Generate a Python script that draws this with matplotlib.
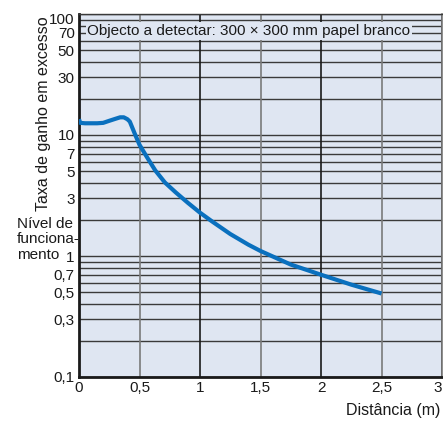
import matplotlib
matplotlib.use("Agg")
import matplotlib.pyplot as plt
from matplotlib.ticker import FixedLocator, NullLocator
from matplotlib.transforms import ScaledTranslation

plt.rcParams['font.family'] = ['Liberation Sans', 'DejaVu Sans']

# Excess gain curve (distance in m, excess gain ratio)
distance = [0.0, 0.01, 0.05, 0.1, 0.15, 0.2, 0.25, 0.3, 0.34, 0.37, 0.4, 0.42,
            0.46, 0.5, 0.56, 0.63, 0.71, 0.8, 0.9, 1.0, 1.1, 1.25, 1.4, 1.5,
            1.75, 2.0, 2.25, 2.5]
gain = [13.5, 12.6, 12.5, 12.5, 12.5, 12.6, 13.1, 13.6, 14.0, 14.0, 13.5, 12.9,
        10.3, 8.3, 6.6, 5.1, 4.05, 3.35, 2.75, 2.28, 1.93, 1.52, 1.24, 1.1,
        0.85, 0.70, 0.58, 0.49]

x_ticks = [0, 0.5, 1, 1.5, 2, 2.5, 3]
x_tick_labels = ["0", "0,5", "1", "1,5", "2", "2,5", "3"]
y_ticks = [0.1, 0.3, 0.5, 0.7, 1, 3, 5, 7, 10, 30, 50, 70, 100]
y_tick_labels = ["0,1", "0,3", "0,5", "0,7", "1", "3", "5", "7", "10", "30", "50", "70", "100"]
y_grid = [m * 10.0 ** e for e in (-1, 0, 1) for m in range(1, 10)] + [100]
level_lines = ["Nível de", "funciona-", "mento"]

bg = "#dfe6f2"
curve_color = "#0a70be"

fig = plt.figure(figsize=(4.43, 4.25), dpi=100)
ax = fig.add_axes([79 / 443, 48 / 425, 363 / 443, 363 / 425])
ax.set_facecolor(bg)
ax.set_yscale("log")
ax.set_xlim(0, 3)
ax.set_ylim(0.1, 100)

# grid
for v in y_grid:
    ax.axhline(v, color="#3a3a3a", lw=1.0, zorder=1)
for v in x_ticks[1:]:
    c = "#1a1a1a" if float(v).is_integer() else "#7a7a7a"
    ax.axvline(v, color=c, lw=1.2, zorder=1)

ax.plot(distance, gain, color=curve_color, lw=3.0, solid_capstyle="butt",
        solid_joinstyle="round", zorder=3)

ax.xaxis.set_major_locator(FixedLocator(x_ticks))
ax.set_xticklabels(x_tick_labels)
ax.yaxis.set_major_locator(FixedLocator(y_ticks))
ax.yaxis.set_minor_locator(NullLocator())
ax.set_yticklabels(y_tick_labels)
ax.tick_params(axis="both", length=0, labelsize=11, colors="#1a1a1a")
ax.tick_params(axis="x", pad=3)
ax.tick_params(axis="y", pad=3)

# keep the end labels inside the figure
top_label = ax.get_yticklabels()[-1]
top_label.set_transform(top_label.get_transform()
                        + ScaledTranslation(0, -5 / 100, fig.dpi_scale_trans))
last_x = ax.get_xticklabels()[-1]
last_x.set_transform(last_x.get_transform()
                     + ScaledTranslation(-4 / 100, 0, fig.dpi_scale_trans))

for side in ("left", "bottom"):
    ax.spines[side].set_linewidth(2.0)
    ax.spines[side].set_color("#1a1a1a")
ax.spines["top"].set_linewidth(1.0)
ax.spines["top"].set_color("#3a3a3a")
ax.spines["right"].set_linewidth(1.2)
ax.spines["right"].set_color("#7a7a7a")

ax.text(0.07, 72, "Objecto a detectar: 300 \u00d7 300 mm papel branco",
        fontsize=11, va="center", ha="left", color="#1a1a1a", zorder=4,
        bbox=dict(boxstyle="square,pad=0.12", fc=bg, ec="none"))

fig.text(44 / 443, 1 - 114 / 425, "Taxa de ganho em excesso", rotation=90,
         fontsize=11.5, ha="center", va="center", color="#1a1a1a")
for i, line in enumerate(level_lines):
    fig.text(17 / 443, 1 - (224 + 15.5 * i) / 425, line, fontsize=11,
             ha="left", va="center", color="#1a1a1a")
fig.text(440 / 443, 1 - 410 / 425, "Distância (m)", fontsize=11.5,
         ha="right", va="center", color="#1a1a1a")

fig.savefig("out.png", dpi=100)
